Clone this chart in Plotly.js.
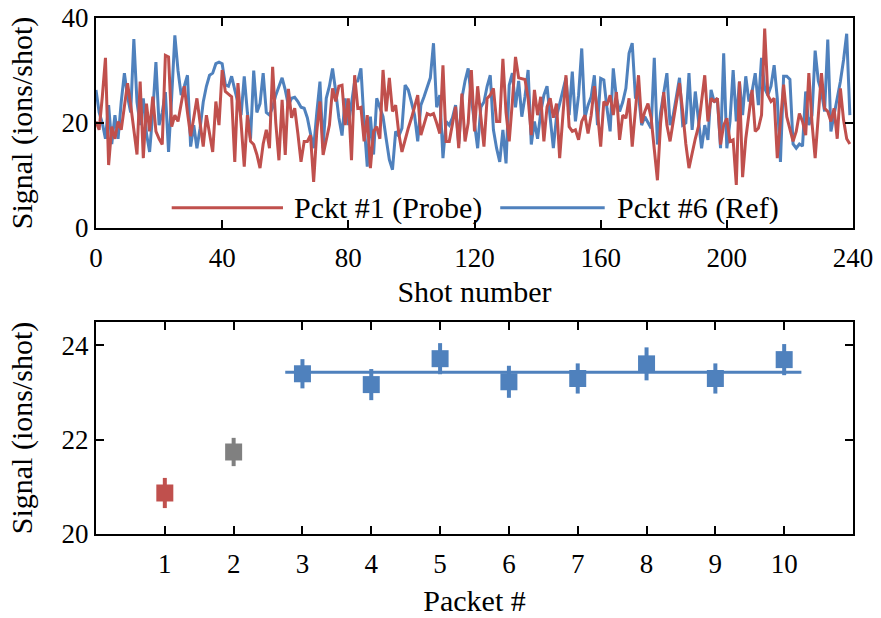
<!DOCTYPE html>
<html>
<head>
<meta charset="utf-8">
<script src="https://cdn.plot.ly/plotly-3.0.1.min.js"></script>
<style>html,body{margin:0;padding:0;background:#fff;}#chart{width:881px;height:618px;}</style>
</head>
<body>
<div id="chart"></div>
<script>
// ---- Top panel: signal per shot ----
const shotsProbe = [
20.3,18.7,25,32.4,12,19.3,17,20.3,18.7,23,
27.6,23.4,19,14,27.9,13.3,23.7,18.4,25,18.4,
17,15.9,32.9,32.6,19.3,21.5,20.3,24,27,22,
17.5,21,24.7,20,15.5,21.5,18,14.5,24.1,19.6,
30.1,26,25.5,25,12.6,27.6,20,11.7,21.5,16.5,
15.9,14,11.4,16,18.7,15.2,30.7,20,12.9,24.4,
13.9,26.5,21,22.8,18,12.6,16.5,16.5,17.7,8.8,
18.4,24.1,13.9,17,19.6,26.6,24.1,27,27.2,19.6,
24.7,12.9,29.1,22.8,23,16.5,21.5,11.4,18.4,19.3,
17,30.1,22.2,28.6,22.2,23.4,18,14.5,17,19,
20.9,23,25.3,17.7,20,21.8,21.5,21.8,20,18,
31,16.5,16.5,20,23.1,15.2,25.6,16.5,20,30.1,
18.4,27,20.9,15.5,24.7,25.3,26.6,20.3,20.3,32.2,
22,16.5,24,32.6,28.6,28.5,28.3,24.7,17.7,26.3,
21.5,25,16.5,23.1,24.7,21,23.7,13.3,21.5,29.1,
19.3,18.4,18.7,16.8,20.3,21.5,18,21.5,27,22,
15.5,24.1,23.4,25.3,21.5,25.9,16.8,21.5,20.9,24.7,
15.5,22,29.1,20,22.2,23.7,21,15,9.1,20,
25.9,19.6,16.5,20.3,24,27.6,22.2,16,11.4,14.5,
17,19.3,24,29.1,20.3,24.7,24.1,24.7,15.9,19.6,
20.9,16.5,16.8,8.2,27.9,9.7,17,22,26.3,18.4,
19,21.5,38,25.3,24.1,24.7,13.3,20.3,27.3,21.2,
19,16.5,18.4,21.8,20.3,17.7,29.5,20,13.3,20.9,
29.5,22.8,22.2,20.3,22.8,17,26.6,20.6,17,16
];
const shotsRef = [
26.3,22,20,17,23.4,16,21.5,17,24,29.5,
25,22,36,24,19.6,24.7,18,14.5,22,31.6,
19.6,22,25.9,14.5,25,36.7,30,25.3,27,29.1,
15.5,19.6,15.2,19,24,27,29.1,29.5,31.3,31.6,
31.3,27.3,27,28.9,26.3,24,21.5,28.9,22,17,
30,22,23.7,29.5,22,21.5,23,25.3,27,28.6,
26.3,23.4,24.7,24.9,24.1,23,22.8,21,18,15.2,
22,27.9,15.2,24.7,27,30.4,26,21,17.6,24.7,
19.6,23.4,27.9,28,30.4,20,11.7,21.2,14,24.7,
23,21.2,17,13,11.1,18.4,17.5,19,27.2,26.3,
24,21.5,16.5,23.4,25,27,28.6,35.2,23,25.3,
13.3,20.3,19.6,21,23.4,16,24.7,28,30.4,24.7,
19.6,15.2,23,24,27,29.1,18.7,15.2,12.6,18.7,
12.3,27.2,29.5,23,28,21.2,25,30.1,15.9,20.3,
17,22,25.3,27,21,15.2,21.2,23.7,26,28.6,
21.5,29.8,20.3,25.3,34.2,21,23.4,25,29.1,19.6,
28.5,28.2,22.8,18.4,30.4,24.7,22.2,24,26.6,33.3,
35.2,25,25.3,19.6,21.2,20,19,32.4,15.9,22,
26,29.5,19.6,21.5,25,28.6,19.6,20,29.5,18.7,
26,21,15.2,19.6,16.8,26.3,24,24.7,15.2,33.3,
15.2,20.3,30.1,20.3,27.9,21.5,28.9,24.1,26,29.5,
23.4,32.4,26.6,25.3,27,31,24.7,12.6,28.9,28.9,
28.3,16,15.2,16,15.6,26,19.6,21.5,33.8,28,
26,22.2,35.9,18.4,21.5,24.1,27.9,32,37,21.5
];
const shotIndex = shotsProbe.map((_, i) => i);
const topXTicks = [0, 40, 80, 120, 160, 200, 240];
const topYTicks = [0, 20, 40];
const probeLabel = "Pckt #1 (Probe)";
const refLabel = "Pckt #6 (Ref)";

// ---- Bottom panel: mean signal per packet ----
const packets = [1, 2, 3, 4, 5, 6, 7, 8, 9, 10];
const packetMean = [20.87, 21.74, 23.40, 23.17, 23.72, 23.23, 23.30, 23.61, 23.30, 23.70];
const packetErr = [0.32, 0.30, 0.31, 0.33, 0.33, 0.34, 0.32, 0.35, 0.32, 0.33];
const refAverage = 23.43;
const refAverageSpan = [2.75, 10.25];
const bottomYTicks = [20, 22, 24];

const RED = '#C0504D', BLUE = '#4F81BD', GRAY = '#808080';
const FONT = '"Liberation Serif", "Times New Roman", serif';

function pick(arr, idx) { return idx.map(i => arr[i]); }
const idxProbe = [0], idxPrep = [1], idxRef = [2,3,4,5,6,7,8,9];

function pointTrace(idx, color) {
  return {
    x: pick(packets, idx), y: pick(packetMean, idx),
    xaxis: 'x2', yaxis: 'y2', type: 'scatter', mode: 'markers',
    marker: {symbol: 'square', size: 17, color: color, line: {width: 0}},
    error_y: {type: 'data', array: pick(packetErr, idx), visible: true, color: color, thickness: 4, width: 0},
    showlegend: false, hoverinfo: 'skip'
  };
}

const traces = [
  {x: shotIndex, y: shotsRef, type: 'scatter', mode: 'lines', name: refLabel,
   line: {color: BLUE, width: 3}, xaxis: 'x', yaxis: 'y', showlegend: false},
  {x: shotIndex, y: shotsProbe, type: 'scatter', mode: 'lines', name: probeLabel,
   line: {color: RED, width: 3}, xaxis: 'x', yaxis: 'y', showlegend: false},
  {x: refAverageSpan, y: [refAverage, refAverage], type: 'scatter', mode: 'lines',
   line: {color: BLUE, width: 3}, xaxis: 'x2', yaxis: 'y2', showlegend: false, hoverinfo: 'skip'},
  pointTrace(idxProbe, RED),
  pointTrace(idxPrep, GRAY),
  pointTrace(idxRef, BLUE)
];

const axisCommon = {
  showgrid: false, zeroline: false, showline: true, linecolor: '#000', linewidth: 2,
  mirror: 'ticks', ticks: 'inside', ticklen: 8, tickwidth: 2, tickcolor: '#000',
  tickfont: {family: FONT, size: 27, color: '#000'}
};
const titleFont = {family: FONT, size: 30, color: '#000'};

const layout = {
  width: 881, height: 618,
  margin: {l: 96, r: 28, t: 18, b: 84},
  paper_bgcolor: '#fff', plot_bgcolor: '#fff',
  font: {family: FONT, color: '#000'},
  showlegend: false,
  xaxis: Object.assign({}, axisCommon, {
    domain: [0, 1], anchor: 'y', range: [0, 240], tickvals: topXTicks, ticklabelstandoff: 5,
    title: {text: 'Shot number', font: titleFont, standoff: 9}
  }),
  yaxis: Object.assign({}, axisCommon, {
    domain: [0.593, 1], anchor: 'x', range: [0, 40], tickvals: topYTicks,
    title: {text: 'Signal (ions/shot)', font: titleFont, standoff: 20}
  }),
  xaxis2: Object.assign({}, axisCommon, {
    domain: [0, 1], anchor: 'y2', range: [0, 11], tickvals: packets, ticklabelstandoff: 5,
    title: {text: 'Packet #', font: titleFont, standoff: 12}
  }),
  yaxis2: Object.assign({}, axisCommon, {
    domain: [0, 0.411], anchor: 'x2', range: [20, 24.5], tickvals: bottomYTicks,
    title: {text: 'Signal (ions/shot)', font: titleFont, standoff: 20}
  }),
  shapes: [
    {type: 'line', xref: 'x domain', yref: 'y domain', x0: 0.100, x1: 0.247, y0: 0.097, y1: 0.097,
     line: {color: RED, width: 3}},
    {type: 'line', xref: 'x domain', yref: 'y domain', x0: 0.534, x1: 0.672, y0: 0.097, y1: 0.097,
     line: {color: BLUE, width: 3}}
  ],
  annotations: [
    {xref: 'x domain', yref: 'y domain', x: 0.259, y: 0.097, xanchor: 'left', yanchor: 'middle',
     text: probeLabel, showarrow: false, font: titleFont},
    {xref: 'x domain', yref: 'y domain', x: 0.686, y: 0.097, xanchor: 'left', yanchor: 'middle',
     text: refLabel, showarrow: false, font: titleFont}
  ]
};

Plotly.newPlot('chart', traces, layout, {staticPlot: true, displayModeBar: false});
</script>
</body>
</html>
